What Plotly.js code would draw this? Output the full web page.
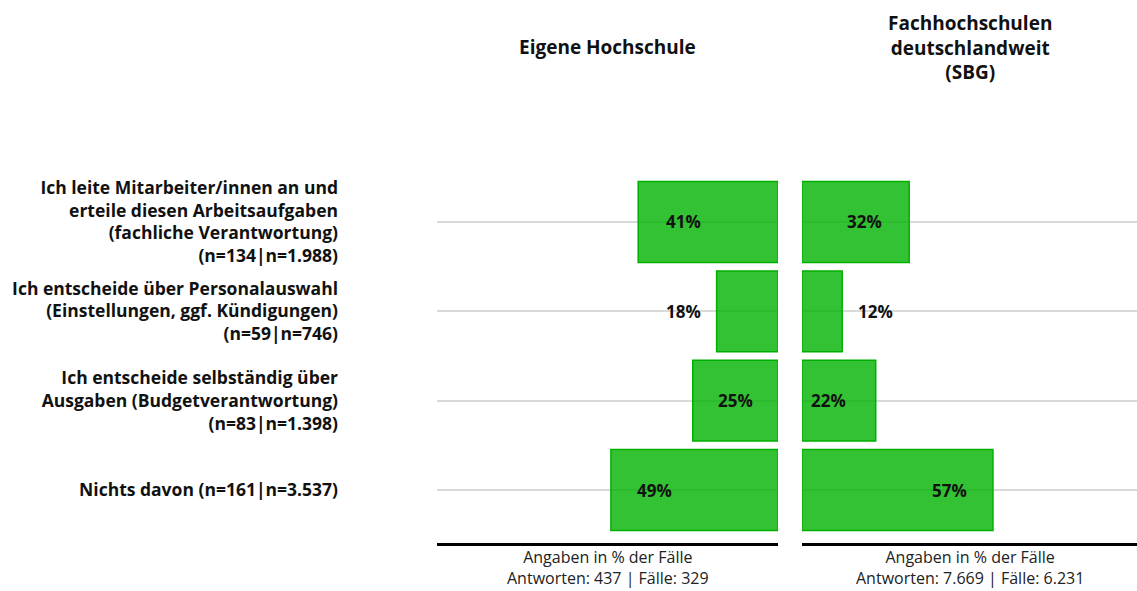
<!DOCTYPE html>
<html><head><meta charset="utf-8">
<script src="https://cdn.plot.ly/plotly-3.0.1.min.js"></script>
<style>html,body{margin:0;padding:0;background:#fff}#chart{width:1137px;height:591px}</style>
</head><body><div id="chart"></div>
<script>
// ---- data ----
const categories = [
  "Ich leite Mitarbeiter/innen an und<br>erteile diesen Arbeitsaufgaben<br>(fachliche Verantwortung)<br>(n=134|n=1.988)",
  "Ich entscheide über Personalauswahl<br>(Einstellungen, ggf. Kündigungen)<br>(n=59|n=746)",
  "Ich entscheide selbständig über<br>Ausgaben (Budgetverantwortung)<br>(n=83|n=1.398)",
  "Nichts davon (n=161|n=3.537)"
];
const eigeneHochschule = [41, 18, 25, 49];
const fachhochschulenSBG = [32, 12, 22, 57];
const panelTitleLeft = "Eigene Hochschule";
const panelTitleRight = "Fachhochschulen<br>deutschlandweit<br>(SBG)";
const footLeft = "Angaben in % der Fälle<br>Antworten: 437 | Fälle: 329";
const footRight = "Angaben in % der Fälle<br>Antworten: 7.669 | Fälle: 6.231";

// ---- styling / label placement (layout only) ----
const labelPosLeft = [27.6, 27.6, 12.6, 36.2];
const labelPosRight = [18.8, 21.8, 8.0, 44.1];
const W = 1137, H = 591;
const FONT = "'Open Sans', Lato, sans-serif";
const barFill = "rgba(0,179,0,0.8)";
const barLine = "rgb(0,176,0)";

const traces = [
  {type:"bar", orientation:"h", y:categories, x:eigeneHochschule, xaxis:"x", yaxis:"y",
   marker:{color:barFill, line:{color:barLine, width:1.5}}, hoverinfo:"x+y", width:0.905},
  {type:"bar", orientation:"h", y:categories, x:fachhochschulenSBG, xaxis:"x2", yaxis:"y2",
   marker:{color:barFill, line:{color:barLine, width:1.5}}, hoverinfo:"x+y", width:0.905}
];

const annotations = [];
eigeneHochschule.forEach((v,i)=>annotations.push({xref:"x", yref:"y", x:labelPosLeft[i], y:categories[i],
  text:"<b>"+v+"%</b>", showarrow:false, font:{family:FONT, size:17, color:"#111"}}));
fachhochschulenSBG.forEach((v,i)=>annotations.push({xref:"x2", yref:"y2", x:labelPosRight[i], y:categories[i],
  text:"<b>"+v+"%</b>", showarrow:false, font:{family:FONT, size:17, color:"#111"}}));
annotations.push({xref:"paper", yref:"paper", x:(437+778)/2/W, y:1-47/H, text:"<b>"+panelTitleLeft+"</b>",
  showarrow:false, font:{family:FONT, size:19, color:"#111"}, xanchor:"center", yanchor:"middle"});
annotations.push({xref:"paper", yref:"paper", x:(802+1137)/2/W, y:1-47/H, text:"<b>"+panelTitleRight+"</b>",
  showarrow:false, font:{family:FONT, size:19, color:"#111"}, xanchor:"center", yanchor:"middle", align:"center"});
annotations.push({xref:"paper", yref:"paper", x:(437+778)/2/W, y:1-567/H, text:footLeft,
  showarrow:false, font:{family:FONT, size:16, color:"#222"}, xanchor:"center", yanchor:"middle", align:"center"});
annotations.push({xref:"paper", yref:"paper", x:(802+1137)/2/W, y:1-567/H, text:footRight,
  showarrow:false, font:{family:FONT, size:16, color:"#222"}, xanchor:"center", yanchor:"middle", align:"center"});

const yDomain = [1-543/H, 1-177.3/H];
const layout = {
  width:W, height:H, margin:{l:0,r:0,t:0,b:0}, paper_bgcolor:"#fff", plot_bgcolor:"rgba(0,0,0,0)",
  showlegend:false, font:{family:FONT},
  xaxis:{domain:[437/W, 778/W], range:[100,0], showticklabels:false, ticks:"", showgrid:false, zeroline:false,
    showline:true, linecolor:"#000", linewidth:3, anchor:"y", fixedrange:true},
  xaxis2:{domain:[802/W, 1], range:[0,100], showticklabels:false, ticks:"", showgrid:false, zeroline:false,
    showline:true, linecolor:"#000", linewidth:3, anchor:"y2", fixedrange:true},
  yaxis:{domain:yDomain, type:"category", categoryorder:"array", categoryarray:categories,
    range:[3.593,-0.5], autorange:false, showgrid:true, gridcolor:"#d9d9d9", gridwidth:2,
    ticks:"", showline:false, zeroline:false, anchor:"x", ticklabelstandoff:98,
    tickfont:{family:FONT, size:17.5, color:"#111", weight:"bold"}},
  yaxis2:{domain:yDomain, type:"category", categoryorder:"array", categoryarray:categories,
    range:[3.593,-0.5], autorange:false, showgrid:true, gridcolor:"#d9d9d9", gridwidth:2,
    ticks:"", showticklabels:false, showline:false, zeroline:false, anchor:"x2"},
  annotations:annotations
};
Plotly.newPlot("chart", traces, layout, {displayModeBar:false, staticPlot:true});
</script></body></html>
